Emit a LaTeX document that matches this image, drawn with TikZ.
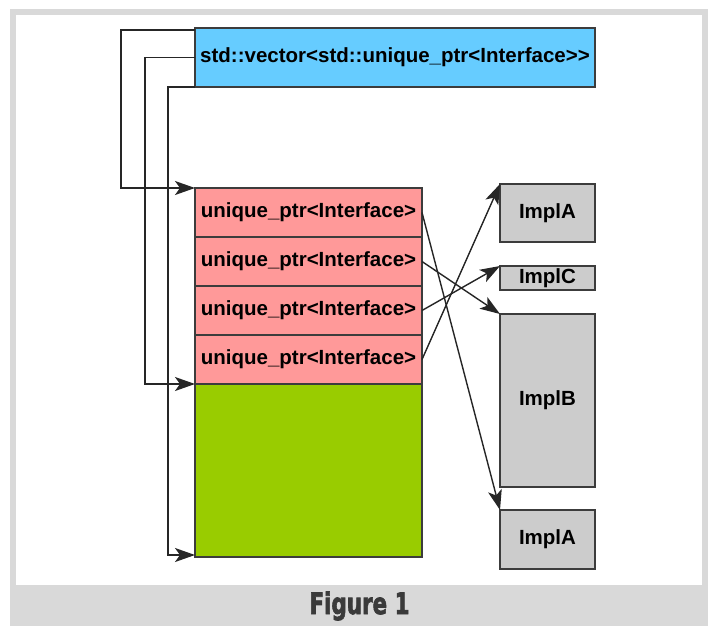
\documentclass[tikz,border=0pt]{standalone}
\usepackage{fontspec}
\setmainfont{Liberation Sans}
\newfontfamily\capfont[FakeBold=2.5]{DejaVu Sans Bold}
\usetikzlibrary{arrows.meta}
\definecolor{vecblue}{HTML}{66CCFF}
\definecolor{ptrpink}{HTML}{FF9999}
\definecolor{freegreen}{HTML}{99CC00}
\definecolor{implgray}{HTML}{CCCCCC}
\definecolor{framegray}{HTML}{D9D9D9}
\definecolor{edge}{HTML}{3C3C3C}
\definecolor{captext}{HTML}{3A3A3A}
\tikzset{
  cell/.style={draw=edge, line width=1.4pt, inner sep=0pt, outer sep=0pt,
    anchor=north west, font=\fontsize{20.5}{24}\selectfont\bfseries, text=black},
  vecbox/.style={cell, fill=vecblue, minimum width=400pt, minimum height=59pt},
  ptrbox/.style={cell, fill=ptrpink, minimum width=227pt, minimum height=49pt},
  spare/.style={cell, fill=freegreen, minimum width=227pt, minimum height=173pt},
  implbox/.style={cell, fill=implgray, minimum width=95pt},
  conn/.style={draw=black!85, line width=1.4pt,
    -{Stealth[length=20pt,width=14pt,inset=5pt]}},
  captxt/.style={text=captext, inner sep=0pt},
}
\begin{document}
\begin{tikzpicture}[x=1pt,y=-1pt]
  \useasboundingbox (0,0) rectangle (711,626);
  % page frame
  \fill[framegray] (10,9) rectangle (708,626);
  \fill[white] (16,15) rectangle (702,585);

  % the vector object
  \node[vecbox] (vec) at (195,28) {std::vector<std::unique\_ptr<Interface>{}>};

  % its buffer: four used slots and spare capacity
  \node[ptrbox] (r1) at (195,188) {unique\_ptr<Interface>};
  \node[ptrbox] (r2) at (195,237) {unique\_ptr<Interface>};
  \node[ptrbox] (r3) at (195,286) {unique\_ptr<Interface>};
  \node[ptrbox] (r4) at (195,335) {unique\_ptr<Interface>};
  \node[spare]  (blk) at (195,384) {};

  % heap objects
  \node[implbox, minimum height=58pt]  (ia1) at (500,184) {ImplA};
  \node[implbox, minimum height=24pt]  (ic)  at (500,266) {ImplC};
  \node[implbox, minimum height=173pt] (ib)  at (500,314) {ImplB};
  \node[implbox, minimum height=59pt]  (ia2) at (500,510) {ImplA};

  % begin / end / capacity pointers
  \coordinate (pbeg) at ([yshift=-2pt]vec.north west);
  \draw[conn] (pbeg) -- ++(-74,0) |- (r1.north west);
  \draw[conn] (vec.west) -- ++(-50,0) |- (r4.south west);
  \draw[conn] (vec.south west) -- ++(-27,0) |- ([yshift=2pt]blk.south west);

  % owned objects
  \draw[conn] (r1.east) -- (ia2.north west);
  \draw[conn] (r2.east) -- (ib.north west);
  \draw[conn] (r3.east) -- (ic.north west);
  \draw[conn] (r4.east) -- (ia1.north west);

  % caption
  \node[captxt] (cap) at (359.5,606)
    {\resizebox*{100pt}{29pt}{\capfont Figure 1}};
\end{tikzpicture}
\end{document}
